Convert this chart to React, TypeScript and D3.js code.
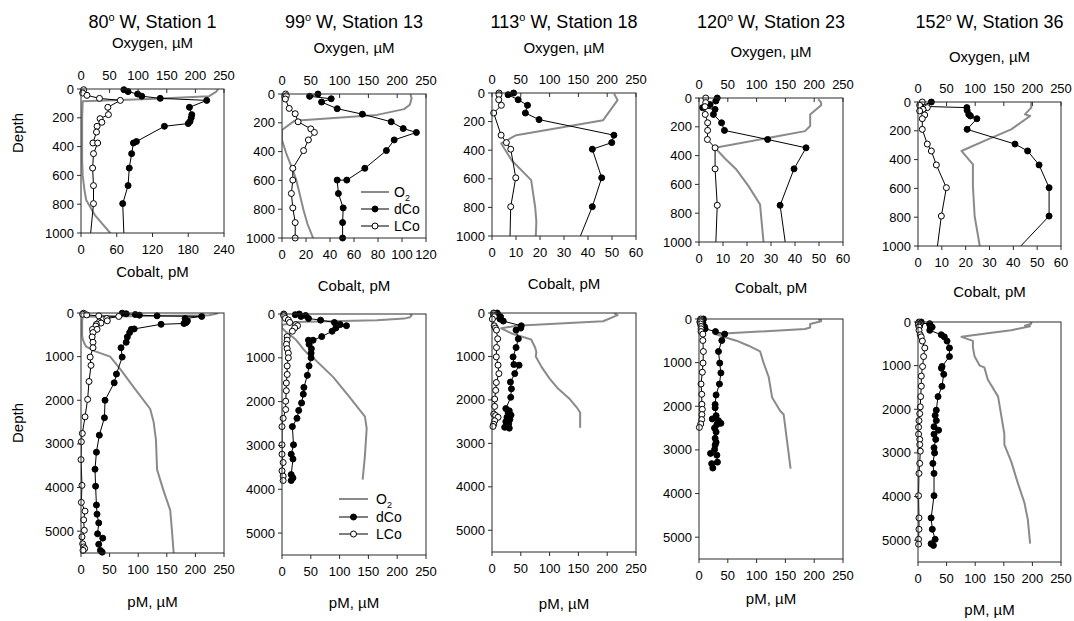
import React from "react";
import * as d3 from "d3";

type P = [number, number]; // [depth (m), value]

// ---------- Station 1 (80°W) ----------
const s1_O2: P[] = [[0,240],[20,236],[50,224],[70,120],[85,3],[200,2],[400,2],[500,2],[600,3],[700,6],[770,9],[880,25],[1000,51],[1290,69],[1700,92],[2200,121],[2500,127],[2900,131],[3590,133],[4060,144],[4520,156],[4980,159],[5500,162]];
const s1_dCo: P[] = [[5,72],[18,79],[35,95],[50,102],[65,133],[79,211],[127,182],[178,186],[200,185],[225,183],[240,180],[259,140],[365,93],[375,88],[449,85],[549,81],[671,79],[796,70],[1010,72],[1400,62],[1600,58],[2000,42],[2400,41],[2800,32],[3190,27],[3580,24.5],[3970,25.5],[4400,27],[4610,28],[4810,31],[5060,29],[5160,38],[5300,31],[5440,34],[5480,37]];
const s1_LCo: P[] = [[5,4.5],[28,2.8],[44,10],[65,31],[79,66],[127,45],[178,46],[206,32],[231,35],[259,27],[299,26],[375,20],[375,28],[449,21],[549,19.5],[671,21],[796,21],[1010,16],[1200,17.5],[1570,14],[1980,11.6],[2380,7],[2760,2.3],[2950,0.6],[3360,0],[3950,1.7],[4340,0.6],[4540,7],[4740,4.6],[4980,5.8],[5130,1.7],[5290,2.9],[5360,4.6],[5400,6.4],[5440,3.5]];

// ---------- Station 13 (99°W) ----------
const s2_O2: P[] = [[0,223],[30,225],[75,222],[105,212],[145,165],[185,22],[250,0],[320,0],[420,8],[520,18],[600,25],[700,31],[800,37],[900,44],[1000,54],[1440,89],[1910,118],[2340,144],[2610,147],[3230,144],[3780,140]];
const s2_dCo: P[] = [[0,30],[16,23],[33,41],[56,33],[102,46],[140,67],[193,91],[240,101],[267,112],[319,93.5],[393,87],[516,69],[598,54],[598,46],[691,47],[791,51],[893,50.5],[1000,50.5],[1185,47],[1400,44],[1675,38],[1830,37],[2030,34],[2200,29],[2380,26],[2570,18],[2985,20],[3200,16],[3310,19],[3665,16],[3740,19],[3800,16]];
const s2_LCo: P[] = [[0,3],[12,3.6],[35,2.8],[100,6],[137,11],[193,13.4],[242,24],[267,27],[319,22],[393,18],[516,9],[598,9],[691,7.8],[791,9],[893,11],[1000,11],[1185,9],[1380,9],[1575,7.5],[1750,7.5],[1990,6.4],[2180,6.4],[2380,2],[2570,0],[2985,0],[3200,0],[3390,2],[3580,0],[3700,2],[3800,2]];

// ---------- Station 18 (113°W) ----------
const s3_O2: P[] = [[5,212],[50,218],[190,193],[295,42],[353,16],[470,34],[609,68],[800,75],[900,77],[1000,76],[1240,86],[1510,100],[1745,115],[1980,135],[2170,147],[2290,153],[2450,153],[2640,153]];
const s3_dCo: P[] = [[0,9],[12,6.7],[47,10.9],[86,14.8],[140,13.9],[186,19.6],[295,50.8],[347,49.9],[393,41.8],[593,45.7],[795,41.8],[1010,36.6],[1185,38],[1200,47],[1395,39.5],[1590,32],[1745,33.7],[1940,32.5],[2200,24],[2250,30],[2300,28],[2350,33],[2400,26],[2450,31],[2500,24],[2550,29],[2600,27],[2630,22],[2650,30]];
const s3_LCo: P[] = [[0,2.9],[12,2.9],[47,2.8],[86,3.9],[140,0.7],[295,3.8],[347,6],[393,7.8],[593,9.9],[795,7.8],[1010,7.5],[1200,10.5],[1395,12],[1600,7.5],[1780,6.4],[1980,4.6],[2150,4.6],[2325,3],[2360,6.4],[2400,10.5],[2480,4.6],[2560,3],[2610,1.7]];

// ---------- Station 23 (120°W) ----------
const s4_O2: P[] = [[9,207],[30,212],[51,212],[114,193],[195,193],[230,184],[346,28],[420,45],[497,65],[612,86],[740,106],[1000,112],[1330,121],[1800,127],[2110,141],[2190,147],[2810,153],[3430,159]];
const s4_dCo: P[] = [[0,7.6],[21,7],[46,4.6],[67,1.5],[79,6.7],[114,6],[172,9.4],[225,10.6],[288,28.6],[346,44.6],[492,39.6],[745,33.8],[1010,36],[1235,38],[1490,35.5],[1740,29.7],[1960,28],[2035,28],[2215,29.7],[2290,23],[2330,33.8],[2390,38],[2420,31],[2500,27],[2590,29.7],[2735,28],[2825,29.7],[2890,28],[2990,27],[3080,20],[3120,31],[3280,32],[3315,22],[3415,24]];
const s4_LCo: P[] = [[0,2.8],[32,2.8],[60,2.5],[114,2.6],[172,3.6],[225,3.6],[288,3.5],[346,6.7],[492,6.7],[745,7.6],[1010,7],[1220,5.8],[1490,3.5],[1725,4.7],[1955,5],[2070,5.8],[2190,5],[2305,4.7],[2405,3],[2485,0.6]];

// ---------- Station 36 (152°W) ----------
const s5_O2: P[] = [[0,198],[39,198],[86,187],[97,196],[190,163],[260,122],[340,76],[433,96],[583,96],[792,99],[1000,108],[1040,116],[1320,122],[1710,140],[2100,145],[2570,151],[2810,151],[3200,163],[3670,174],[4140,186],[4530,192],[5080,196]];
const s5_dCo: P[] = [[0,5.6],[30,1],[39,20.5],[58,20.6],[86,21.3],[97,22],[116,24.7],[190,20.6],[292,40.7],[340,46],[437,50.8],[595,55],[792,55],[1020,42],[1060,41],[1200,45],[1475,41.9],[1710,35],[2020,32],[2140,30],[2260,32],[2400,28],[2480,36],[2570,28],[2690,31],[2880,28],[3000,29],[3240,26],[3470,28],[3980,28],[4490,23],[4750,25],[4980,30],[5080,23],[5120,27]];
const s5_LCo: P[] = [[0,1.8],[23,0.7],[39,3.9],[51,2.1],[62,0.7],[90,2.8],[116,1.8],[190,1.8],[292,3.9],[340,5.6],[437,7.7],[595,11.9],[792,9.8],[1020,8],[1240,5.8],[1470,5.8],[1710,4.6],[1945,4],[2100,3],[2260,1.7],[2410,1],[2570,1],[2690,3],[2810,3],[2960,4],[3240,3],[3470,1.7],[3980,1],[4490,1.7],[4750,1.7],[4980,1],[5090,1]];

// ---------- labels / axes ----------
const longitudes = ["80", "99", "113", "120", "152"];
const stationNumbers = ["1", "13", "18", "23", "36"];
const cobaltMax = [240, 120, 60, 60, 60];
const cobaltStep = [60, 20, 10, 10, 10];
const o2Ticks = [0, 50, 100, 150, 200, 250];
const topDepthTicks = [0, 200, 400, 600, 800, 1000];
const bottomDepthTicks = [0, 1000, 2000, 3000, 4000, 5000];
const bottomXTicks = [0, 50, 100, 150, 200, 250];
const legendLabels = ["O2", "dCo", "LCo"];

const o2Series = [s1_O2, s2_O2, s3_O2, s4_O2, s5_O2];
const dCoSeries = [s1_dCo, s2_dCo, s3_dCo, s4_dCo, s5_dCo];
const lCoSeries = [s1_LCo, s2_LCo, s3_LCo, s4_LCo, s5_LCo];

// ---------- layout ----------
type Box = { l: number; t: number; r: number; b: number };
const topBoxes: Box[] = [
  { l: 81, t: 89, r: 224, b: 233 },
  { l: 282, t: 94, r: 426, b: 238 },
  { l: 492, t: 93, r: 636, b: 236 },
  { l: 699, t: 98, r: 843, b: 242 },
  { l: 918, t: 102, r: 1061, b: 246 },
];
const bottomBoxes: Box[] = [
  { l: 81, t: 313, r: 224, b: 553 },
  { l: 282, t: 314, r: 426, b: 555 },
  { l: 492, t: 313, r: 636, b: 552 },
  { l: 699, t: 319, r: 843, b: 559 },
  { l: 918, t: 322, r: 1061, b: 562 },
];
const titleY = 22;
const oxygenTitleY = [43, 48, 48, 52, 57];
const cobaltTitleY = [272, 286, 284, 288, 292];
const pmTitleY = [602, 603, 604, 599, 610];

const FONT = "'Liberation Sans', Arial, Helvetica, sans-serif";
const GRAY = "#8a8a8a";
const AXIS = "#2a2a2a";
const R = 3;

type PanelProps = {
  id: string;
  box: Box;
  yMax: number;
  yTicks: number[];
  xMax: number;
  xTicks: number[];
  o2: P[];
  dCo: P[];
  lCo: P[];
  topAxis: boolean;
};

function Panel({ id, box, yMax, yTicks, xMax, xTicks, o2, dCo, lCo, topAxis }: PanelProps) {
  const x = d3.scaleLinear().domain([0, xMax]).range([box.l, box.r]);
  const xo = d3.scaleLinear().domain([0, 250]).range([box.l, box.r]);
  const y = d3.scaleLinear().domain([0, yMax]).range([box.t, box.b]);
  const lineCo = d3.line<P>().x((d) => x(d[1])).y((d) => y(d[0]));
  const lineO2 = d3.line<P>().x((d) => xo(d[1])).y((d) => y(d[0]));
  const inside = (d: P) => d[0] <= yMax;
  return (
    <g>
      <defs>
        <clipPath id={id}>
          <rect x={box.l} y={box.t} width={box.r - box.l} height={box.b - box.t} />
        </clipPath>
      </defs>
      <g clipPath={`url(#${id})`}>
        <path d={lineO2(o2) || ""} fill="none" stroke={GRAY} strokeWidth={2} strokeLinejoin="round" />
        <path d={lineCo(dCo) || ""} fill="none" stroke="#000" strokeWidth={1} />
        <path d={lineCo(lCo) || ""} fill="none" stroke="#000" strokeWidth={1} />
      </g>
      {dCo.filter(inside).map((d, i) => (
        <circle key={"d" + i} cx={x(d[1])} cy={y(d[0])} r={R} fill="#000" stroke="#000" strokeWidth={1} />
      ))}
      {lCo.filter(inside).map((d, i) => (
        <circle key={"l" + i} cx={x(d[1])} cy={y(d[0])} r={R} fill="#fff" stroke="#000" strokeWidth={1} />
      ))}
      <rect x={box.l} y={box.t} width={box.r - box.l} height={box.b - box.t} fill="none" stroke={AXIS} strokeWidth={1} />
      {yTicks.map((t) => (
        <g key={"y" + t}>
          <line x1={box.l - 4} x2={box.l} y1={y(t)} y2={y(t)} stroke={AXIS} />
          <text x={box.l - 7} y={y(t)} dy="0.35em" textAnchor="end" fontSize={13} fontFamily={FONT}>
            {t}
          </text>
        </g>
      ))}
      {xTicks.map((t) => (
        <g key={"x" + t}>
          <line x1={x(t)} x2={x(t)} y1={box.b} y2={box.b + 4} stroke={AXIS} />
          <text x={x(t)} y={box.b + 16} dy="0.35em" textAnchor="middle" fontSize={13} fontFamily={FONT}>
            {t}
          </text>
        </g>
      ))}
      {topAxis &&
        o2Ticks.map((t) => (
          <g key={"o" + t}>
            <line x1={xo(t)} x2={xo(t)} y1={box.t} y2={box.t + 4} stroke={AXIS} />
            <text x={xo(t)} y={box.t - 14} dy="0.35em" textAnchor="middle" fontSize={13} fontFamily={FONT}>
              {t}
            </text>
          </g>
        ))}
    </g>
  );
}

function Legend({ x1, x2, tx, ys }: { x1: number; x2: number; tx: number; ys: number[] }) {
  const mid = (x1 + x2) / 2;
  return (
    <g fontFamily={FONT} fontSize={14}>
      {legendLabels.map((lab, i) => (
        <g key={lab}>
          {i === 0 ? (
            <line x1={x1} x2={x2} y1={ys[i]} y2={ys[i]} stroke={GRAY} strokeWidth={2} />
          ) : (
            <>
              <line x1={x1} x2={x2} y1={ys[i]} y2={ys[i]} stroke="#000" strokeWidth={1} />
              <circle cx={mid} cy={ys[i]} r={R} fill={i === 1 ? "#000" : "#fff"} stroke="#000" />
            </>
          )}
          <text x={tx} y={ys[i]} dy="0.35em">
            {lab === "O2" ? (
              <>
                O<tspan fontSize={9} dy={4}>2</tspan>
              </>
            ) : (
              lab
            )}
          </text>
        </g>
      ))}
    </g>
  );
}

export default function App() {
  return (
    <div style={{ position: "absolute", left: 0, top: 0 }}>
      <svg width={1074} height={621} style={{ display: "block", background: "#fff" }}>
        {topBoxes.map((box, i) => {
          const cx = (box.l + box.r) / 2;
          const xTicks = d3.range(0, cobaltMax[i] + 0.001, cobaltStep[i]);
          return (
            <g key={"top" + i}>
              <text x={cx} y={titleY} dy="0.35em" textAnchor="middle" fontSize={18} fontFamily={FONT}>
                {longitudes[i]}
                <tspan fontSize={11} dy={-7}>o</tspan>
                <tspan dy={7}> W, Station {stationNumbers[i]}</tspan>
              </text>
              <text x={cx} y={oxygenTitleY[i]} dy="0.35em" textAnchor="middle" fontSize={15} fontFamily={FONT}>
                Oxygen, µM
              </text>
              <Panel
                id={"ct" + i}
                box={box}
                yMax={1000}
                yTicks={topDepthTicks}
                xMax={cobaltMax[i]}
                xTicks={xTicks}
                o2={o2Series[i]}
                dCo={dCoSeries[i]}
                lCo={lCoSeries[i]}
                topAxis={true}
              />
              <text x={cx} y={cobaltTitleY[i]} dy="0.35em" textAnchor="middle" fontSize={15} fontFamily={FONT}>
                Cobalt, pM
              </text>
            </g>
          );
        })}
        {bottomBoxes.map((box, i) => {
          const cx = (box.l + box.r) / 2;
          return (
            <g key={"bot" + i}>
              <Panel
                id={"cb" + i}
                box={box}
                yMax={5500}
                yTicks={bottomDepthTicks}
                xMax={250}
                xTicks={bottomXTicks}
                o2={o2Series[i]}
                dCo={dCoSeries[i]}
                lCo={lCoSeries[i]}
                topAxis={false}
              />
              <text x={cx} y={pmTitleY[i]} dy="0.35em" textAnchor="middle" fontSize={15} fontFamily={FONT}>
                pM, µM
              </text>
            </g>
          );
        })}
        <text transform="translate(18,133) rotate(-90)" dy="0.35em" textAnchor="middle" fontSize={15} fontFamily={FONT}>
          Depth
        </text>
        <text transform="translate(18,423) rotate(-90)" dy="0.35em" textAnchor="middle" fontSize={15} fontFamily={FONT}>
          Depth
        </text>
        <Legend x1={361} x2={389} tx={394} ys={[192, 209, 226]} />
        <Legend x1={339} x2={368} tx={376} ys={[499, 517, 534]} />
      </svg>
    </div>
  );
}
